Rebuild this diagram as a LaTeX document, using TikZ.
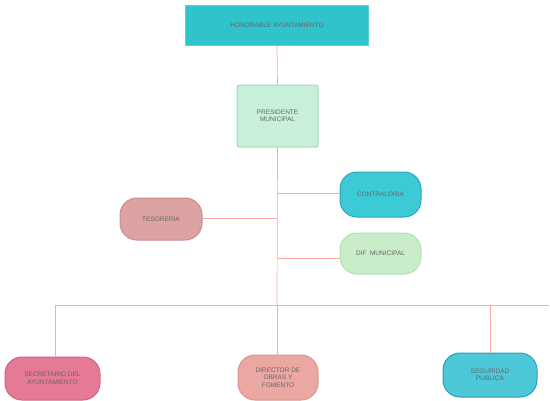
\documentclass[tikz,border=0pt]{standalone}
\usepackage{fontspec}
\setmainfont{Liberation Sans}
\begin{document}
\begin{tikzpicture}[x=1pt,y=-1pt,
  lbl/.style={font=\fontsize{6.5}{7.5}\selectfont, text=black!60, align=center, inner sep=0pt},
  pill/.style={lbl, rounded corners=17pt, line width=1pt},
  conn/.style={draw=red!35!white, line width=0.7pt}]
\definecolor{topc}{HTML}{2FC3CB}
\definecolor{presf}{HTML}{C8EFD9}
\definecolor{presd}{HTML}{A4DCBF}
\definecolor{contf}{HTML}{3CCBD6}
\definecolor{contd}{HTML}{2AA8B8}
\definecolor{tesf}{HTML}{DDA2A2}
\definecolor{tesd}{HTML}{CB8C8C}
\definecolor{diff}{HTML}{C8EDC8}
\definecolor{difd}{HTML}{B0E0B4}
\definecolor{secf}{HTML}{E47A95}
\definecolor{secd}{HTML}{D36483}
\definecolor{obrf}{HTML}{EBA8A2}
\definecolor{obrd}{HTML}{DA9490}
\definecolor{segf}{HTML}{4CC8D8}
\definecolor{segd}{HTML}{2AA0B8}
\useasboundingbox (0,0) rectangle (550,400);
\fill[white] (0,0) rectangle (550,400);

% nodes
\node[lbl, fill=topc, draw=topc!80!white, line width=1pt, minimum width=183pt, minimum height=40pt] (hon) at (277,25) {HONORABLE AYUNTAMIENTO};
\node[lbl, fill=presf, draw=presd, line width=1pt, rounded corners=2pt, minimum width=81pt, minimum height=62pt] (pres) at (277.5,116) {PRESIDENTE\\MUNICIPAL};
\node[pill, fill=contf, draw=contd, minimum width=81pt, minimum height=45pt] (cont) at (380.5,194.5) {CONTRALORIA};
\node[pill, fill=tesf, draw=tesd, minimum width=82pt, minimum height=42pt] (tes) at (161,219) {TESORERIA};
\node[pill, fill=diff, draw=difd, minimum width=81pt, minimum height=41pt] (dif) at (380.5,253.5) {DIF\ \ MUNICIPAL};
\node[pill, fill=secf, draw=secd, minimum width=95pt, minimum height=43pt] (sec) at (52.5,378.5) {SECRETARIO DEL\\AYUNTAMIENTO};
\node[pill, fill=obrf, draw=obrd, minimum width=80pt, minimum height=45pt] (obr) at (278,377.5) {DIRECTOR DE\\OBRAS Y\\FOMENTO};
\node[pill, fill=segf, draw=segd, minimum width=94pt, minimum height=44pt] (seg) at (490,375) {SEGURIDAD\\PUBLICA};

% connectors
\coordinate (j1) at (277,193);
\coordinate (j2) at (277,218);
\coordinate (j3) at (277,258);
\coordinate (bus) at (277,305);
\coordinate (busL) at (55,305);
\coordinate (busR) at (549,305);
\coordinate (dropR) at (490,305);

\draw[conn] (hon.south) -- (pres.north);
\draw[conn] (pres.south) -- (bus);
\draw[conn] (j1) -- (j1 -| cont.west);
\draw[conn] (j2) -- (j2 -| tes.east);
\draw[conn] (j3) -- (j3 -| dif.west);
\draw[conn] (busL) -- (busR);
\draw[conn] (busL) -- (busL |- sec.north);
\draw[conn] (bus) -- (bus |- obr.north);
\draw[conn] (dropR) -- (dropR |- seg.north);
\end{tikzpicture}
\end{document}
